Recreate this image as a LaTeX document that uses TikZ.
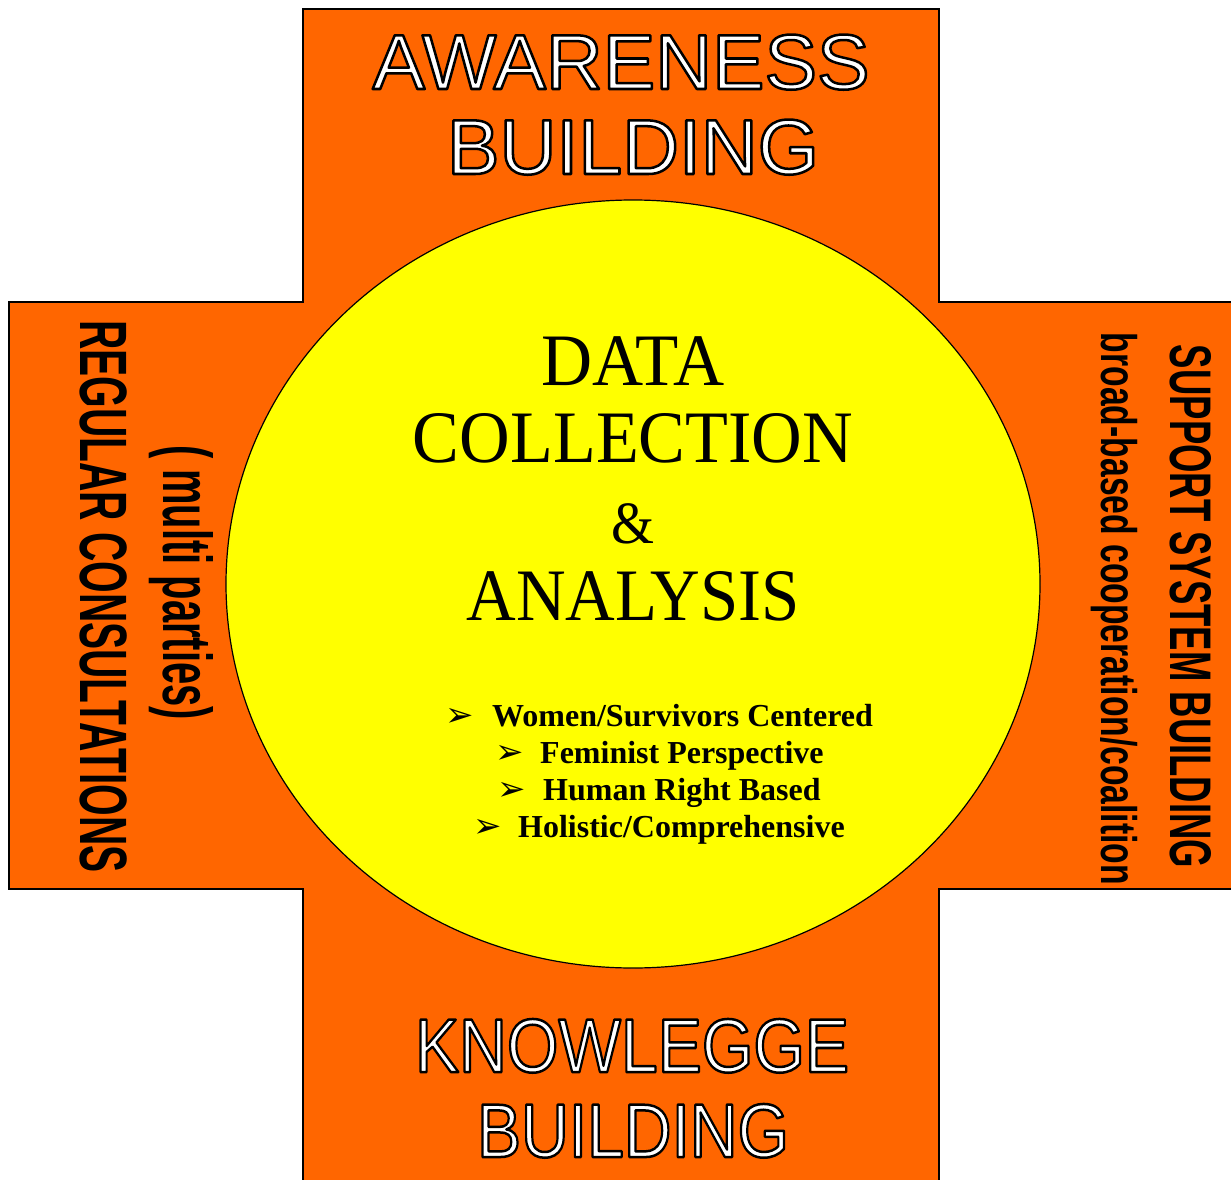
\documentclass[tikz,border=0pt]{standalone}
\usepackage{fontspec}
\usepackage{graphicx}
\usetikzlibrary{shapes.geometric}
\setmainfont{Liberation Serif}
\newfontfamily\arialfont{Liberation Sans}
\newfontfamily\symfont{DejaVu Sans}
\definecolor{crossorange}{HTML}{FF6600}
\definecolor{coreyellow}{HTML}{FFFF00}
\newcommand\outlined[1]{{\color{white}\special{pdf:code 2 Tr 2.5 w 1 j 0 G}#1\special{pdf:code 0 Tr}}}
\newcommand\bul{{\symfont\fontsize{34}{36}\selectfont ➢}}
\begin{document}
\begin{tikzpicture}[x=1pt,y=-1pt,
  outtxt/.style={inner sep=0pt, anchor=base, font=\arialfont},
  coretxt/.style={inner sep=0pt, anchor=base, font=\fontsize{74}{78}\selectfont},
  bullettxt/.style={inner sep=0pt, anchor=base west, font=\bfseries\fontsize{32}{34}\selectfont},
  sidetxt/.style={inner sep=0pt, anchor=base, rotate=-90, font=\arialfont\bfseries}]
\useasboundingbox (0,0) rectangle (1231,1180);
\clip (0,0) rectangle (1231,1180);
\draw[fill=crossorange, line width=1.6pt] (303,9) -- (939,9) -- (939,302) -- (1250,302) -- (1250,889) -- (939,889) -- (939,1200) -- (303,1200) -- (303,889) -- (9,889) -- (9,302) -- (303,302) -- cycle;
\node[draw, ellipse, fill=coreyellow, line width=1.2pt, minimum width=814pt, minimum height=768pt, inner sep=0pt] (core) at (633,584) {};
% top
\node[outtxt] (aw1) at (621,89) {\fontsize{78}{80}\selectfont\resizebox{497pt}{\height}{\outlined{AWARENESS}}};
\node[outtxt] (aw2) at (633,174) {\fontsize{78}{80}\selectfont\resizebox{372pt}{\height}{\outlined{BUILDING}}};
% bottom
\node[outtxt] (kn1) at (632,1072) {\fontsize{76}{80}\selectfont\resizebox{434pt}{\height}{\outlined{KNOWLEGGE}}};
\node[outtxt] (kn2) at (633,1157) {\fontsize{76}{80}\selectfont\resizebox{312pt}{\height}{\outlined{BUILDING}}};
% core
\node[coretxt] (c1) at (633,385) {\resizebox{183pt}{\height}{DATA}};
\node[coretxt] (c2) at (633,462) {\resizebox{440pt}{\height}{COLLECTION}};
\node[coretxt] (c3) at (633,543) {\fontsize{60}{62}\selectfont\resizebox{43pt}{\height}{\&}};
\node[coretxt] (c4) at (633,620) {\resizebox{333pt}{\height}{ANALYSIS}};
% bullets
\node[bullettxt] (b1) at (445,726) {\makebox[47pt][l]{\bul}Women/Survivors Centered};
\node[bullettxt] (b2) at (495,763) {\makebox[45pt][l]{\bul}Feminist Perspective};
\node[bullettxt] (b3) at (497,800) {\makebox[46pt][l]{\bul}Human Right Based};
\node[bullettxt] (b4) at (473,837) {\makebox[45pt][l]{\bul}Holistic/Comprehensive};
% left
\node[sidetxt] (reg) at (80,596.5) {\fontsize{67}{70}\selectfont\resizebox{553pt}{\height}{REGULAR CONSULTATIONS}};
\node[sidetxt] (multi) at (163,582.5) {\fontsize{69}{72}\selectfont\resizebox{275pt}{\height}{( multi parties)}};
% right
\node[sidetxt] (sup) at (1170,606.5) {\fontsize{58.7}{62}\selectfont\resizebox{523pt}{\height}{SUPPORT SYSTEM BUILDING}};
\node[sidetxt] (coal) at (1101,609) {\fontsize{50}{54}\selectfont\resizebox{552pt}{\height}{broad-based cooperation/coalition}};
\end{tikzpicture}
\end{document}
